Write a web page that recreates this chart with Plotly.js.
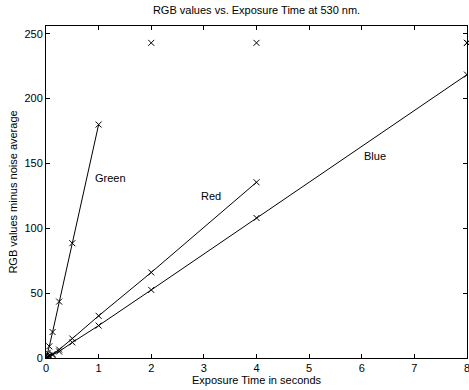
<!DOCTYPE html>
<html>
<head>
<meta charset="utf-8">
<script src="https://cdn.plot.ly/plotly-3.0.1.min.js"></script>
<style>html,body{margin:0;padding:0;background:#fff;}#chart{width:469px;height:390px;}</style>
</head>
<body>
<div id="chart"></div>
<script>
// Exposure times (seconds)
const exposure = [0.015625, 0.03125, 0.0625, 0.125, 0.25, 0.5, 1, 2, 4, 8];
// RGB values minus noise average
const greenVals = [2, 4, 9, 20, 43.5, 88.5, 180, 243, 243, 243];
const redVals   = [0.5, 1, 1.8, 3, 6.5, 15, 32.5, 66, 135.5, 243];
const blueVals  = [0.3, 0.6, 1.2, 2.3, 5, 12, 25, 52.5, 108, 218.5];
const saturation = 243;

const seriesNames = ['Green', 'Red', 'Blue'];
const labelX = [0.9, 2.9, 6.0];
const labelY = [139, 125, 156];

const fontFam = 'Liberation Sans, Arial, Helvetica, sans-serif';
const traces = [];
[greenVals, redVals, blueVals].forEach((vals, i) => {
  const lx = [], ly = [], sx = [], sy = [];
  vals.forEach((v, j) => {
    if (v >= saturation) { sx.push(exposure[j]); sy.push(v); }
    else { lx.push(exposure[j]); ly.push(v); }
  });
  traces.push({
    x: lx, y: ly, mode: 'lines+markers', name: seriesNames[i],
    line: {color: '#000', width: 1},
    marker: {symbol: 'x-thin', size: 6, color: '#000', line: {color: '#000', width: 1}},
    showlegend: false, hoverinfo: 'skip'
  });
  traces.push({
    x: sx, y: sy, mode: 'markers', name: seriesNames[i] + ' (saturated)',
    marker: {symbol: 'x-thin', size: 6, color: '#000', line: {color: '#000', width: 1}},
    showlegend: false, hoverinfo: 'skip', cliponaxis: false
  });
});

const annotations = seriesNames.map((n, i) => ({
  x: labelX[i], y: labelY[i], xref: 'x', yref: 'y', text: n,
  showarrow: false, xanchor: 'left', yanchor: 'middle',
  font: {family: fontFam, size: 11, color: '#000'}
}));

const axisCommon = {
  showgrid: false, zeroline: false, showline: true, linecolor: '#000', linewidth: 1,
  mirror: 'ticks', ticks: 'inside', ticklen: 4, tickwidth: 1, tickcolor: '#000',
  ticklabeloverflow: 'allow',
  tickfont: {family: fontFam, size: 11, color: '#000'}
};

const layout = {
  width: 469, height: 390,
  margin: {l: 46, r: 2, t: 26, b: 32},
  paper_bgcolor: '#fff', plot_bgcolor: '#fff',
  font: {family: fontFam, size: 11, color: '#000'},
  title: {text: 'RGB values vs. Exposure Time at 530 nm.', x: 0.547, xref: 'container',
          y: 0.974, yref: 'container', yanchor: 'middle', xanchor: 'center',
          font: {family: fontFam, size: 11, color: '#000'}},
  xaxis: Object.assign({}, axisCommon, {
    range: [0, 8], tickvals: [0,1,2,3,4,5,6,7,8],
    title: {text: 'Exposure Time in seconds', standoff: 2, font: {family: fontFam, size: 11, color: '#000'}},
    automargin: false
  }),
  yaxis: Object.assign({}, axisCommon, {
    range: [0, 256], tickvals: [0,50,100,150,200,250],
    title: {text: 'RGB values minus noise average', standoff: 4, font: {family: fontFam, size: 11, color: '#000'}},
    automargin: false
  }),
  annotations: annotations,
  showlegend: false
};

Plotly.newPlot('chart', traces, layout, {staticPlot: true, displayModeBar: false});
</script>
</body>
</html>
